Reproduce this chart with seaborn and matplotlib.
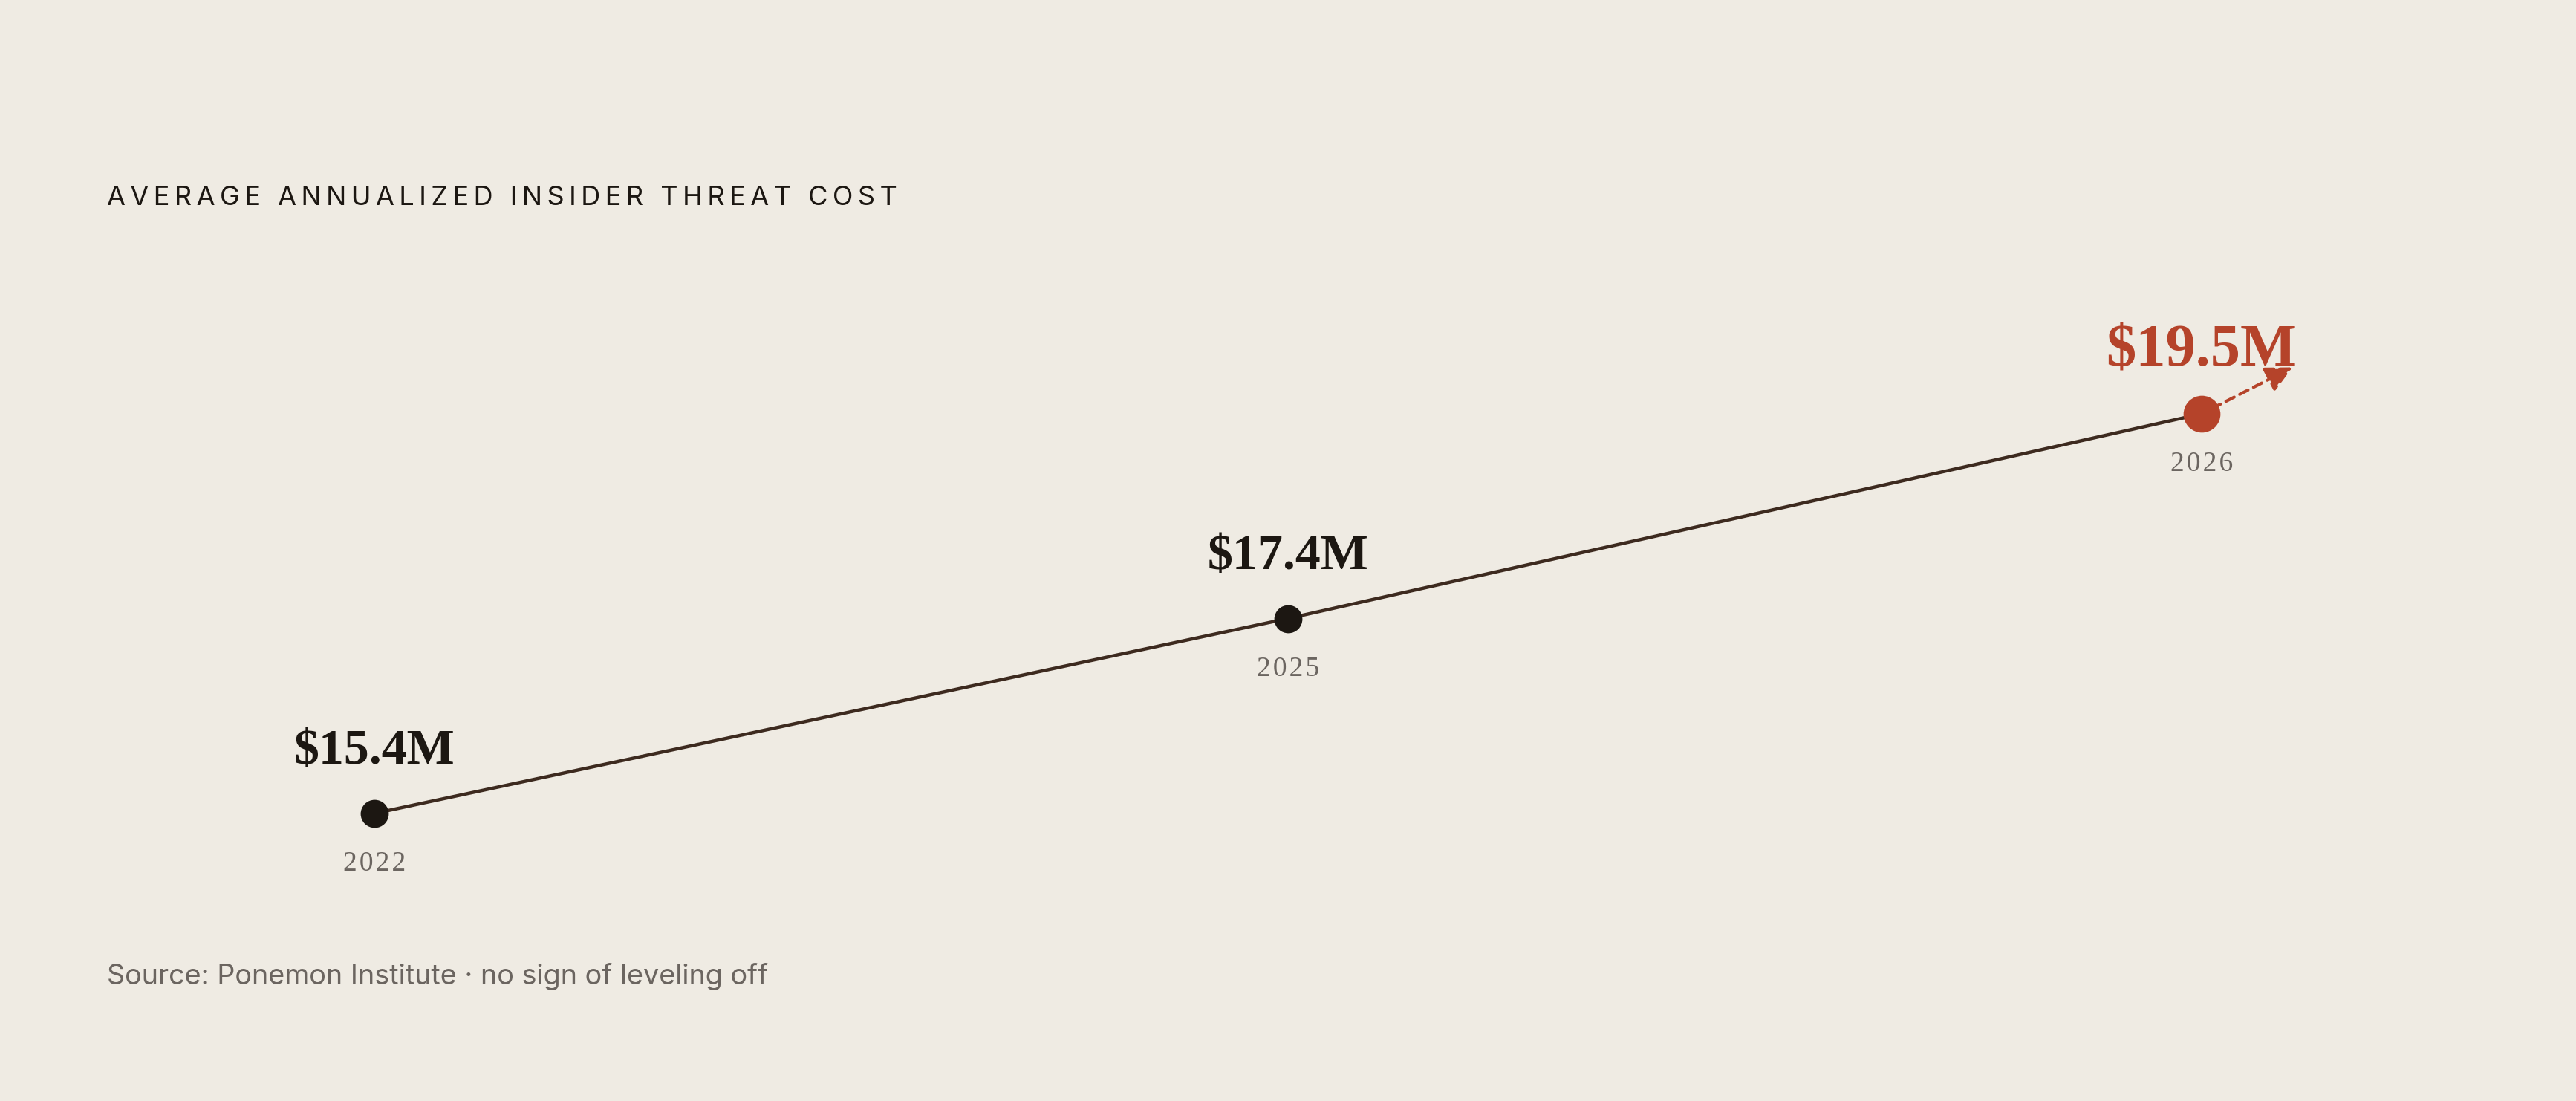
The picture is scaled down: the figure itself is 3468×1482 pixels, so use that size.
import matplotlib.pyplot as plt
import seaborn as sns

years = ["2022", "2025", "2026"]
costs = [15.4, 17.4, 19.5]
labels = ["$15.4M", "$17.4M", "$19.5M"]

BG = "#efebe3"
INK = "#1c1712"
LINE = "#3d2a1f"
RED = "#b5432a"
GREY = "#6b6560"

sns.set_theme(style="white")
plt.rcParams["font.family"] = ["Inter", "DejaVu Sans"]


def track(s, sp="\u200a"):
    return sp.join(s)


fig = plt.figure(figsize=(17.34, 7.41), dpi=200, facecolor=BG)
ax = fig.add_axes([0, 0, 1, 1])
ax.set_facecolor(BG)

sns.lineplot(x=years, y=costs, ax=ax, color=LINE, lw=1.6, sort=False, zorder=2)
sns.scatterplot(x=years[:-1], y=costs[:-1], ax=ax, color=INK, s=185,
                edgecolor=INK, linewidth=0, zorder=3)
sns.scatterplot(x=years[-1:], y=costs[-1:], ax=ax, color=RED, s=320,
                edgecolor=RED, linewidth=0, zorder=3)

ax.set_xlim(-0.4098, 2.4098)
ax.set_ylim(12.45, 23.745)
ax.axis("off")

last = len(years) - 1
for i, (yr, v, lab) in enumerate(zip(years, costs, labels)):
    hot = i == last
    ax.annotate(lab, (i, v), xytext=(0, 30.5 if hot else 30),
                textcoords="offset points", ha="center", va="center",
                family="Liberation Serif", fontweight="bold",
                fontsize=29 if hot else 24.5, color=RED if hot else INK)
    ax.annotate(track(yr), (i, v), xytext=(0, -24.5),
                textcoords="offset points", ha="center", va="center",
                family="Liberation Serif", fontsize=13.5, color=GREY)

# dashed trend arrow leaving the latest point
ax.annotate("", xy=(last, costs[-1]), xytext=(44, 22.5),
            textcoords="offset points",
            arrowprops=dict(arrowstyle="<|-,head_length=0.9,head_width=0.45",
                            color=RED, lw=1.5, linestyle=(0, (3, 2)),
                            shrinkA=0, shrinkB=9))

fig.text(0.0415, 0.82, "\u2009 \u2009".join(track(w, "\u2009") for w in
                                           "AVERAGE ANNUALIZED INSIDER THREAT COST".split()),
         ha="left", va="center", fontsize=13, color=INK)
fig.text(0.0415, 0.113, "Source: Ponemon Institute \u00b7 no sign of leveling off",
         ha="left", va="center", fontsize=13.6, color=GREY)

fig.savefig("out.png", dpi=200, facecolor=BG)
